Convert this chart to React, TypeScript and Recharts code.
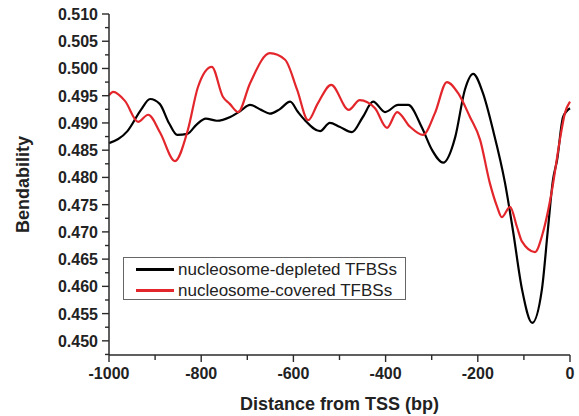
import { Line, LineChart, XAxis, YAxis } from "recharts";

// nucleosome-depleted TFBSs (black)
const depletedPos = [
  -1000, -960, -930, -911, -890, -870, -852, -830, -810, -790, -766, -737, -715, -694, -670, -651,
  -630, -607, -590, -575, -542, -521, -500, -473, -450, -427, -401, -373, -351, -321, -299, -275,
  -249, -228, -210, -189, -167, -141, -124, -104, -82, -61, -48, -37, -28, -15, 0,
];
const depletedVal = [
  0.4863, 0.4885, 0.4925, 0.4944, 0.4935, 0.49, 0.4878, 0.488, 0.4897, 0.4908, 0.4904, 0.4911,
  0.4922, 0.4933, 0.4924, 0.4917, 0.4925, 0.4939, 0.492, 0.4905, 0.4885, 0.49, 0.4893, 0.4883,
  0.491, 0.4939, 0.492, 0.4933, 0.4933, 0.4891, 0.485, 0.4827, 0.4874, 0.4961, 0.499, 0.4955,
  0.4887, 0.479, 0.4704, 0.4594, 0.4533, 0.4594, 0.4704, 0.4795, 0.4832, 0.4911, 0.4927,
];

// nucleosome-covered TFBSs (red)
const coveredPos = [
  -1000, -991, -965, -937, -915, -889, -857, -829, -807, -777, -753, -738, -720, -694, -651, -618,
  -592, -568, -547, -518, -480, -456, -423, -397, -375, -347, -319, -293, -267, -243, -217, -195,
  -174, -158, -148, -130, -115, -104, -76, -59, -39, -22, -11, 0,
];
const coveredVal = [
  0.4951, 0.4957, 0.494, 0.4902, 0.4915, 0.4882, 0.483, 0.4887, 0.4966, 0.5003, 0.4948, 0.4935,
  0.492, 0.4973, 0.5028, 0.5016, 0.4961, 0.4905, 0.4936, 0.497, 0.4924, 0.4942, 0.4927, 0.4891,
  0.492, 0.4893, 0.4878, 0.4918, 0.4975, 0.4955, 0.4911, 0.4869, 0.479, 0.4746, 0.4727, 0.4746,
  0.4709, 0.4682, 0.4663, 0.4698, 0.4777, 0.4869, 0.4918, 0.4939,
];

const xTicks = [-1000, -900, -800, -700, -600, -500, -400, -300, -200, -100, 0];
const yTicks = [
  0.4475, 0.45, 0.4525, 0.455, 0.4575, 0.46, 0.4625, 0.465, 0.4675, 0.47, 0.4725, 0.475, 0.4775,
  0.48, 0.4825, 0.485, 0.4875, 0.49, 0.4925, 0.495, 0.4975, 0.5, 0.5025, 0.505, 0.5075, 0.51,
];

const depleted = depletedPos.map((x, i) => ({ x, y: depletedVal[i] }));
const covered = coveredPos.map((x, i) => ({ x, y: coveredVal[i] }));

const FONT = "'Liberation Sans', Arial, sans-serif";
const AXIS = "#2a2a2a";
const RED = "#e3262b";

const legendItems = [
  { label: "nucleosome-depleted TFBSs", color: "#000" },
  { label: "nucleosome-covered TFBSs", color: RED },
];

function XTick({ x, y, payload }: any) {
  const major = Math.round(payload.value) % 200 === 0;
  return (
    <g>
      <line x1={x} x2={x} y1={y} y2={y + (major ? 7 : 5)} stroke={AXIS} strokeWidth={1.4} />
      {major && (
        <text x={x} y={y + 24} textAnchor="middle" fontFamily={FONT} fontWeight="bold" fontSize={16} fill="#222">
          {payload.value}
        </text>
      )}
    </g>
  );
}

function YTick({ x, y, payload }: any) {
  const major = Math.round(payload.value * 10000) % 50 === 0;
  return (
    <g>
      <line x1={x - (major ? 7 : 4)} x2={x} y1={y} y2={y} stroke={AXIS} strokeWidth={1.4} />
      {major && (
        <text x={x - 11} y={y + 6} textAnchor="end" fontFamily={FONT} fontWeight="bold" fontSize={16} fill="#222">
          {payload.value.toFixed(3)}
        </text>
      )}
    </g>
  );
}

export default function App() {
  return (
    <div style={{ position: "absolute", left: 0, top: 0, width: 579, height: 416, background: "#fff" }}>
      <LineChart width={579} height={416} margin={{ top: 14, right: 9, left: 9, bottom: 11 }}>
        <XAxis
          dataKey="x"
          type="number"
          domain={[-1000, 0]}
          ticks={xTicks}
          interval={0}
          allowDuplicatedCategory={false}
          height={50}
          tickSize={0}
          tickMargin={0}
          tickLine={false}
          axisLine={{ stroke: AXIS, strokeWidth: 1.5 }}
          tick={<XTick />}
          label={({ viewBox }: any) => (
            <text
              x={viewBox.x + viewBox.width / 2}
              y={viewBox.y + 55}
              textAnchor="middle"
              fontFamily={FONT}
              fontWeight="bold"
              fontSize={18}
              fill="#222"
            >
              Distance from TSS (bp)
            </text>
          )}
        />
        <YAxis
          dataKey="y"
          type="number"
          domain={[0.4474, 0.51]}
          ticks={yTicks}
          interval={0}
          width={100}
          tickSize={0}
          tickMargin={0}
          tickLine={false}
          axisLine={{ stroke: AXIS, strokeWidth: 1.5 }}
          tick={<YTick />}
          label={({ viewBox }: any) => (
            <text
              x={29}
              y={viewBox.y + viewBox.height / 2}
              transform={`rotate(-90, 29, ${viewBox.y + viewBox.height / 2})`}
              textAnchor="middle"
              fontFamily={FONT}
              fontWeight="bold"
              fontSize={18}
              fill="#222"
            >
              Bendability
            </text>
          )}
        />
        <Line
          data={depleted}
          dataKey="y"
          name="nucleosome-depleted TFBSs"
          type="monotone"
          stroke="#000"
          strokeWidth={2.2}
          dot={false}
          isAnimationActive={false}
        />
        <Line
          data={covered}
          dataKey="y"
          name="nucleosome-covered TFBSs"
          type="monotone"
          stroke={RED}
          strokeWidth={2.2}
          dot={false}
          isAnimationActive={false}
        />
      </LineChart>
      <div
        style={{
          position: "absolute",
          left: 123,
          top: 257,
          width: 281,
          height: 41,
          border: "1px solid #666",
          background: "#fff",
          fontFamily: FONT,
          fontSize: 17,
          color: "#222",
        }}
      >
        {legendItems.map((e, i) => (
          <div key={i} style={{ display: "flex", alignItems: "center", height: 21, marginTop: i === 0 ? 1 : 0 }}>
            <span style={{ display: "inline-block", width: 38, height: 2.5, background: e.color, marginLeft: 12, marginRight: 4 }} />
            <span style={{ whiteSpace: "nowrap" }}>{e.label}</span>
          </div>
        ))}
      </div>
    </div>
  );
}
